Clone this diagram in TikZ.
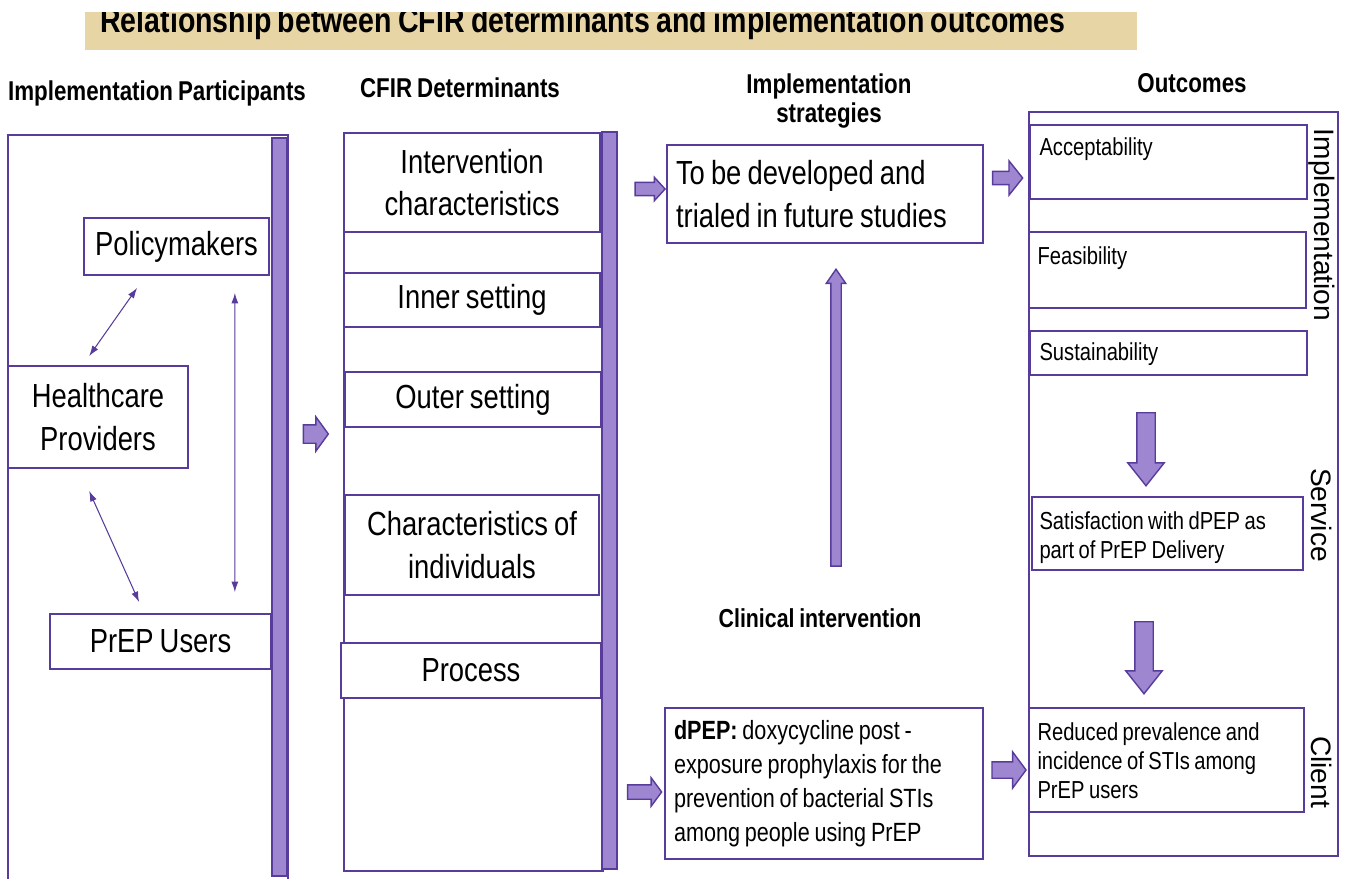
\documentclass[tikz,border=0pt]{standalone}
\usepackage{fontspec}
\setmainfont{Liberation Sans}[FakeStretch=0.82, WordSpace=0.8]
\newfontfamily\sidefont{Liberation Sans}
\usetikzlibrary{shapes.arrows,arrows.meta,calc}

\definecolor{framepurple}{RGB}{88,60,155}
\definecolor{barpurple}{RGB}{158,134,209}
\definecolor{titletan}{RGB}{232,213,165}

\tikzset{
  box/.style={draw=framepurple, line width=1pt, fill=white, inner sep=0pt, align=center},
  bar/.style={draw=framepurple, fill=barpurple, line width=1pt},
  head/.style={font=\fontsize{15.5}{17}\selectfont\bfseries, align=center},
  bigtxt/.style={font=\fontsize{19}{24}\selectfont},
  smalltxt/.style={font=\fontsize{14}{16.5}\selectfont, align=left, inner sep=0pt, anchor=north west},
  side/.style={font=\sidefont\fontsize{16}{18}\selectfont, rotate=-90},
  link/.style={draw=framepurple, line width=0.6pt, {Latex[length=6pt,width=4pt]}-{Latex[length=6pt,width=4pt]}},
  blockarrow/.style={single arrow, draw=framepurple, fill=barpurple, line width=0.8pt,
    inner xsep=0pt, single arrow head indent=0pt},
}

\begin{document}
\begin{tikzpicture}[x=0.02cm, y=-0.02cm]
\clip (0,0) rectangle (1347,879);

% title strip
\begin{scope}
  \clip (85,12) rectangle (1137,50);
  \fill[titletan] (85,12) rectangle (1137,50);
  \node[font=\fontsize{19.8}{22}\selectfont\bfseries, anchor=base] (title) at (583,32)
    {Relationship between CFIR determinants and implementation outcomes};
\end{scope}

% column headings
\node[head, anchor=base] (hpart) at (157,100) {Implementation Participants};
\node[head, anchor=base] (hcfir) at (460,97) {CFIR Determinants};
\node[head] (hstrat) at (829,101) {Implementation\\strategies};
\node[head, anchor=base] (hout) at (1192,92) {Outcomes};
\node[head, anchor=base, font=\fontsize{14.8}{17}\selectfont\bfseries] (hclin) at (820,627) {Clinical intervention};

% participants
\draw[framepurple, line width=1pt] (8,135) rectangle (288,900);
\draw[bar] (272,138) rectangle (287,876);
\node[box, bigtxt, minimum width=3.7cm, minimum height=1.14cm] (policy) at (176.5,246.5) {Policymakers};
\node[box, bigtxt, minimum width=3.6cm, minimum height=2.04cm] (health) at (98,417) {Healthcare\\Providers};
\node[box, bigtxt, minimum width=4.42cm, minimum height=1.1cm] (prep) at (160.5,641.5) {PrEP Users};

\draw[link] ($(policy.south west)+(54,12)$) -- ($(health.north west)+(82,-9)$);
\draw[link] ($(health.south west)+(82,22)$) -- ($(prep.north west)+(90,-11)$);
\draw[link] ($(policy.south east)+(-35,17)$) -- ($(prep.north east)+(-37,-21)$);

\node[blockarrow, minimum height=0.5cm, inner ysep=0.17cm, single arrow head extend=0.16cm,
  single arrow tip angle=108] (arrpart) at (312.5,434) {};

% CFIR determinants
\draw[framepurple, line width=1pt] (344,133) rectangle (603,871);
\draw[bar] (602,132) rectangle (617,869);
\node[box, bigtxt, minimum width=5.12cm, minimum height=1.98cm] (intchar) at (472,182.5) {Intervention\\characteristics};
\node[box, bigtxt, minimum width=5.12cm, minimum height=1.08cm] (inner) at (472,300) {Inner setting};
\node[box, bigtxt, minimum width=5.12cm, minimum height=1.1cm] (outer) at (473,399.5) {Outer setting};
\node[box, bigtxt, minimum width=5.08cm, minimum height=2cm] (indiv) at (472,545) {Characteristics of\\individuals};
\node[box, bigtxt, minimum width=5.2cm, minimum height=1.1cm] (process) at (471,670.5) {Process};

% strategies and clinical intervention
\node[blockarrow, minimum height=0.6cm, inner ysep=0.12cm, single arrow head extend=0.1cm,
  single arrow tip angle=95] (arrstrat) at (647,189) {};
\node[box, bigtxt, minimum width=6.32cm, minimum height=1.96cm, text width=5.96cm,
  inner xsep=0.18cm, align=flush left] (strat) at (825,194) {To be developed and\\trialed in future studies};
\node[blockarrow, minimum height=0.6cm, inner ysep=0.12cm, single arrow head extend=0.21cm,
  single arrow tip angle=103] (arrimpl) at (1005,178) {};

\node[blockarrow, rotate=90, minimum height=5.94cm, inner ysep=0.09cm, single arrow head extend=0.09cm,
  single arrow tip angle=69] (arrclin) at (836,421.5) {};

\node[blockarrow, minimum height=0.68cm, inner ysep=0.13cm, single arrow head extend=0.14cm,
  single arrow tip angle=107] (arrdpep) at (642,792) {};
\node[box, minimum width=6.36cm, minimum height=3.02cm, text width=6cm, inner xsep=0.18cm,
  align=flush left, font=\fontsize{15}{19.3}\selectfont] (dpep) at (824,783.5)
  {\textbf{dPEP:} doxycycline post -\\exposure prophylaxis for the\\prevention of bacterial STIs\\among people using PrEP};
\node[blockarrow, minimum height=0.68cm, inner ysep=0.15cm, single arrow head extend=0.2cm,
  single arrow tip angle=107] (arrclient) at (1006,770) {};

% outcomes
\draw[framepurple, line width=1pt] (1029,112) rectangle (1338,856);
\node[box, minimum width=5.54cm, minimum height=1.48cm] (accept) at (1168.5,162) {};
\node[box, minimum width=5.54cm, minimum height=1.52cm] (feas) at (1167.5,270) {};
\node[box, minimum width=5.54cm, minimum height=0.88cm] (sust) at (1168.5,353) {};
\node[box, minimum width=5.42cm, minimum height=1.46cm] (satis) at (1167.5,533.5) {};
\node[box, minimum width=5.5cm, minimum height=2.08cm] (reduce) at (1166.5,760) {};

\node[smalltxt] (accepttxt) at ($(accept.north west)+(10,13)$) {Acceptability};
\node[smalltxt] (feastxt) at ($(feas.north west)+(9,15)$) {Feasibility};
\node[smalltxt] (susttxt) at ($(sust.north west)+(10,12)$) {Sustainability};
\node[smalltxt] (satistxt) at ($(satis.north west)+(8,15)$) {Satisfaction with dPEP as\\part of PrEP Delivery};
\node[smalltxt] (reducetxt) at ($(reduce.north west)+(9,15)$) {Reduced prevalence and\\incidence of STIs among\\PrEP users};

\node[blockarrow, rotate=-90, minimum height=1.46cm, inner ysep=0.17cm, single arrow head extend=0.18cm,
  single arrow tip angle=77] (arrservice) at (1146,443.5) {};
\node[blockarrow, rotate=-90, minimum height=1.44cm, inner ysep=0.17cm, single arrow head extend=0.18cm,
  single arrow tip angle=77] (arrcl) at (1144,652) {};

\node[side] (limpl) at (1322,225) {Implementation};
\node[side] (lserv) at (1322,515) {Service};
\node[side] (lclient) at (1322,772) {Client};

\end{tikzpicture}
\end{document}
